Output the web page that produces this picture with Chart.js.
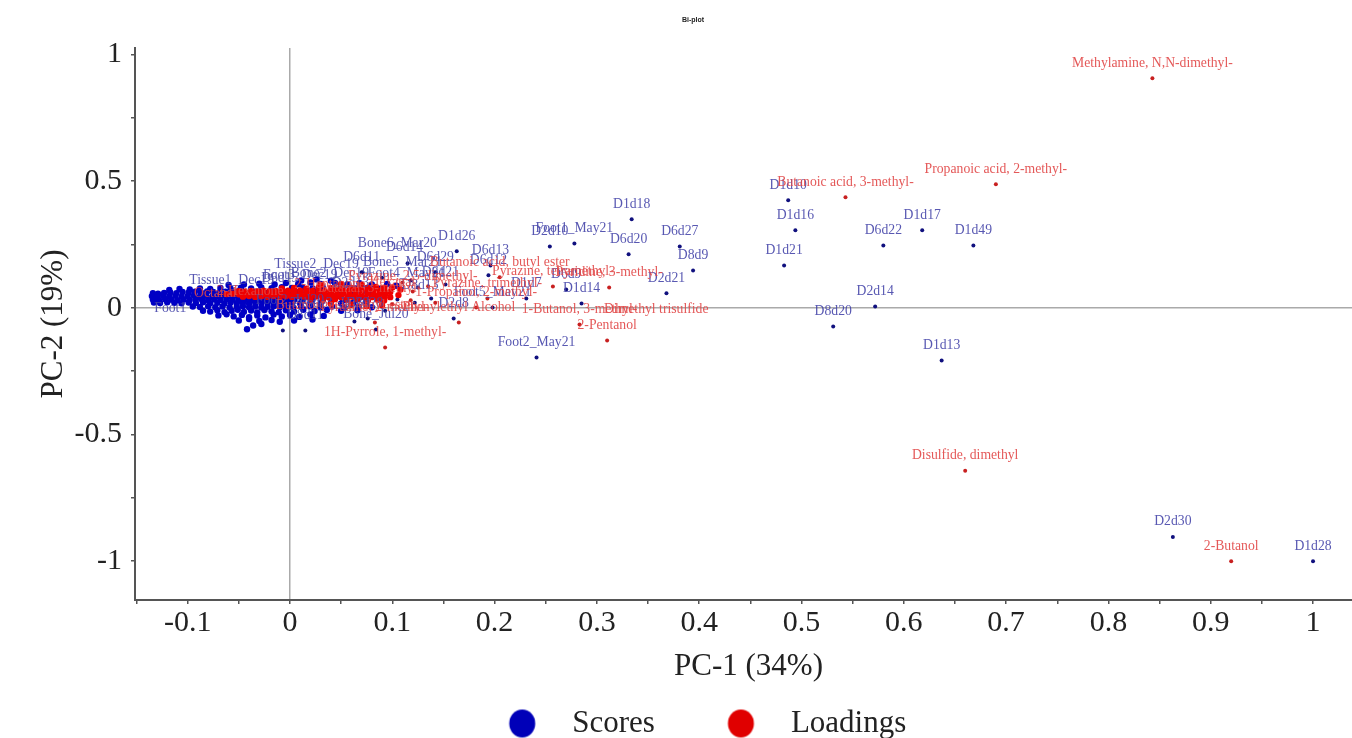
<!DOCTYPE html>
<html>
<head>
<meta charset="utf-8">
<title>Bi-plot</title>
<script src="https://cdn.jsdelivr.net/npm/chart.js@4"></script>
<style>
    body { margin: 0; background: #fff; }
    #biplot { display: block; filter: blur(0.6px); }
</style>
</head>
<body>
<canvas id="biplot" width="1352" height="738"></canvas>
<script>
const xTickLabels = ["-0.1", "0", "0.1", "0.2", "0.3", "0.4", "0.5", "0.6", "0.7", "0.8", "0.9", "1"];
const yTickLabels = ["-1", "-0.5", "0", "0.5", "1"];
const seriesNames = ["Scores", "Loadings"];

// points with their name printed just above them
const scoreNames = ["D1d28", "D2d30", "D1d13", "D8d20", "D2d14", "D1d21", "D6d22", "D1d17", "D1d49", "D1d16", "D1d10", "D1d18", "D6d27", "D8d9", "D6d20", "Foot1_May21", "D2d10", "D2d21", "D1d14", "Foot2_May21", "D6d13", "D6d12", "D1d26", "D6d9", "D1d7", "D2d8", "Foot5_May21", "D6d29", "D6d11", "Bone_Jul20", "D8d11"];
const scoreX = [1, 0.863, 0.637, 0.531, 0.572, 0.483, 0.58, 0.618, 0.668, 0.494, 0.487, 0.334, 0.381, 0.394, 0.331, 0.278, 0.254, 0.368, 0.285, 0.241, 0.196, 0.194, 0.163, 0.27, 0.231, 0.16, 0.198, 0.142, 0.07, 0.084, 0.015];
const scoreY = [-1, -0.904, -0.208, -0.074, 0.005, 0.167, 0.246, 0.306, 0.246, 0.306, 0.424, 0.349, 0.242, 0.147, 0.211, 0.254, 0.242, 0.057, 0.017, -0.196, 0.167, 0.128, 0.223, 0.072, 0.037, -0.042, 0.001, 0.14, 0.14, -0.086, -0.09];

const loadingNames = ["Methylamine, N,N-dimethyl-", "Propanoic acid, 2-methyl-", "Butanoic acid, 3-methyl-", "Disulfide, dimethyl", "2-Butanol", "1H-Pyrrole, 1-methyl-", "2-Pentanol", "1-Butanol, 3-methyl-", "Pyrazine, tetramethyl-", "Pyridine, 3-methyl-", "Butanoic acid, butyl ester", "Pyrazine, trimethyl-", "1-Propanol, 2-methyl-", "Phenylethyl Alcohol", "Pyrazine, 2,5-dimethyl-"];
const loadingX = [0.843, 0.69, 0.543, 0.66, 0.92, 0.093, 0.31, 0.283, 0.257, 0.312, 0.205, 0.193, 0.182, 0.165, 0.12];
const loadingY = [0.906, 0.487, 0.436, -0.643, -1, -0.157, -0.129, -0.066, 0.084, 0.08, 0.12, 0.037, 0.001, -0.058, 0.064];

// names in the crowded part, read at the middle of the text itself
const crowdedScoreNames = ["Foot1", "Bone6_Mar20", "D6d14", "Bone5_Mar21", "Foot4_May21", "Tissue2_Dec19", "Tissue1_Dec19", "D6d21", "Foot3_Dec19", "Bone2_Dec19", "D6d15", "D2d13", "Tissue3_Jul20", "D6d28", "Foot2_Jul20", "D8d13"];
const crowdedScoreX = [-0.117, 0.105, 0.112, 0.11, 0.114, 0.026, -0.057, 0.147, 0.01, 0.039, -0.01, 0.059, 0.039, 0.073, 0, 0.127];
const crowdedScoreY = [-0.003, 0.254, 0.238, 0.179, 0.136, 0.171, 0.108, 0.139, 0.128, 0.136, 0.116, 0.096, 0.017, 0.017, 0.029, 0.088];
const crowdedLoadingNames = ["Dimethyl trisulfide", "2-Heptanone", "Butanal, 3-methyl-", "Butanoic acid, ethyl ester", "Pyrazine, 2-methyl-", "Octanal", "2-Hexanone", "Hexanal"];
const crowdedLoadingX = [0.358, 0.039, 0.078, 0.054, 0.083, -0.073, -0.039, 0.1];
const crowdedLoadingY = [-0.007, 0.092, 0.076, 0.009, 0.001, 0.056, 0.064, 0.1];

// unnamed dots further out, then the dense band near the origin
const scoreExtras = [[0.115, 0.176], [0.125, 0.08], [0.138, 0.037], [0.105, 0.033], [0.076, -0.042], [0.063, -0.054], [-0.007, -0.09], [0.093, -0.012], [0.122, 0.02], [0.071, 0.139], [0.152, 0.092], [0.118, 0.108], [0.09, 0.118]];
const scoreCloud = [
    [-0.134, 0.058], [-0.129, 0.056], [-0.123, 0.059], [-0.117, 0.06], [-0.111, 0.058], [-0.105, 0.062], [-0.099, 0.06], [-0.093, 0.063], [-0.087, 0.06], [-0.081, 0.064], [-0.075, 0.062], [-0.069, 0.06], [-0.063, 0.063], [-0.057, 0.061], [-0.051, 0.064], [-0.045, 0.062], [-0.039, 0.06], [-0.033, 0.063], [-0.027, 0.061], [-0.021, 0.06], [-0.015, 0.063], [-0.009, 0.061], [-0.003, 0.062], [0.003, 0.06], [0.009, 0.063], [0.016, 0.061], [0.024, 0.062], [0.032, 0.06], [0.04, 0.063], [0.05, 0.061], [0.06, 0.062], [0.07, 0.06], [0.08, 0.062],
    [-0.135, 0.046], [-0.13, 0.044], [-0.124, 0.047], [-0.118, 0.045], [-0.112, 0.047], [-0.106, 0.044], [-0.1, 0.046], [-0.094, 0.048], [-0.088, 0.045], [-0.082, 0.047], [-0.076, 0.044], [-0.07, 0.046], [-0.064, 0.048], [-0.058, 0.045], [-0.052, 0.047], [-0.046, 0.044], [-0.04, 0.046], [-0.034, 0.048], [-0.028, 0.045], [-0.022, 0.047], [-0.016, 0.044], [-0.01, 0.046], [-0.004, 0.048], [0.002, 0.045], [0.008, 0.047], [0.016, 0.044], [0.026, 0.046], [0.036, 0.048], [0.046, 0.045], [0.058, 0.047], [0.07, 0.044], [0.082, 0.046],
    [-0.134, 0.033], [-0.128, 0.031], [-0.122, 0.034], [-0.116, 0.032], [-0.11, 0.03], [-0.104, 0.033], [-0.098, 0.031], [-0.092, 0.034], [-0.086, 0.032], [-0.08, 0.03], [-0.074, 0.033], [-0.068, 0.031], [-0.062, 0.034], [-0.056, 0.032], [-0.05, 0.03], [-0.044, 0.033], [-0.038, 0.031], [-0.032, 0.034], [-0.026, 0.032], [-0.02, 0.03], [-0.014, 0.033], [-0.008, 0.031], [-0.002, 0.034], [0.004, 0.032], [0.012, 0.03], [0.022, 0.033], [0.032, 0.031], [0.042, 0.034], [0.052, 0.03], [0.064, 0.032], [0.076, 0.031], [0.088, 0.034],
    [-0.133, 0.021], [-0.127, 0.019], [-0.12, 0.022], [-0.113, 0.02], [-0.106, 0.018], [-0.099, 0.021], [-0.092, 0.019], [-0.085, 0.022], [-0.078, 0.018], [-0.071, 0.02], [-0.064, 0.017], [-0.058, 0.021], [-0.052, 0.018], [-0.046, 0.02], [-0.04, 0.017], [-0.034, 0.021], [-0.028, 0.018], [-0.022, 0.02], [-0.016, 0.017], [-0.01, 0.021], [-0.004, 0.018], [0.002, 0.02], [0.01, 0.017], [0.02, 0.021], [0.03, 0.018], [0.04, 0.02], [0.05, 0.017], [0.062, 0.02], [0.074, 0.018],
    [-0.095, 0.005], [-0.088, 0.003], [-0.08, 0.006], [-0.073, 0.002], [-0.066, 0.005], [-0.059, 0.001], [-0.052, 0.004], [-0.046, 0.006], [-0.04, 0.002], [-0.034, 0.005], [-0.028, 0.001], [-0.022, 0.004], [-0.016, 0.006], [-0.01, 0.002], [-0.004, 0.005], [0.003, 0.001], [0.011, 0.004], [0.02, 0.006], [0.03, 0.002], [0.041, 0.005], [0.053, 0.001], [0.067, 0.004], [0.08, 0.002],
    [-0.085, -0.012], [-0.078, -0.015], [-0.071, -0.01], [-0.064, -0.017], [-0.057, -0.012], [-0.051, -0.008], [-0.045, -0.016], [-0.038, -0.011], [-0.032, -0.018], [-0.025, -0.009], [-0.018, -0.014], [-0.011, -0.018], [-0.004, -0.01], [0.004, -0.015], [0.013, -0.008], [0.024, -0.013], [0.036, -0.009], [0.05, -0.012], [0.066, -0.01],
    [-0.07, -0.03], [-0.062, -0.026], [-0.055, -0.034], [-0.047, -0.028], [-0.04, -0.037], [-0.032, -0.03], [-0.024, -0.038], [-0.016, -0.027], [-0.008, -0.034], [0, -0.028], [0.009, -0.036], [0.02, -0.026], [0.033, -0.032],
    [-0.05, -0.05], [-0.04, -0.044], [-0.03, -0.052], [-0.018, -0.048], [-0.036, -0.07], [-0.042, -0.085], [-0.028, -0.064], [-0.01, -0.055], [0.004, -0.05], [0.022, -0.046],
    [-0.118, 0.07], [-0.108, 0.074], [-0.098, 0.072], [-0.088, 0.076], [-0.078, 0.074], [-0.068, 0.078], [-0.058, 0.075], [-0.048, 0.079], [-0.038, 0.076], [-0.028, 0.08], [-0.018, 0.077], [-0.008, 0.081], [0.002, 0.078], [0.012, 0.08], [0.022, 0.076], [0.032, 0.081], [0.042, 0.078], [0.052, 0.08], [0.064, 0.076], [0.076, 0.078], [0.088, 0.075],
    [-0.06, 0.09], [-0.045, 0.092], [-0.03, 0.095], [-0.015, 0.092], [-0.004, 0.098], [0.008, 0.094], [0.02, 0.1], [0.03, 0.094], [0.044, 0.098], [0.056, 0.092], [0.068, 0.097], [0.08, 0.092], [0.095, 0.094], [0.104, 0.087], [0.011, 0.108], [0.026, 0.112], [0.04, 0.107]
];

const loadingExtras = [[0.083, -0.058], [0.142, 0.02], [0.11, 0.1], [0.135, 0.085], [0.1, 0.014], [0.118, 0.03]];
const loadingCloud = [
    [-0.062, 0.054], [-0.056, 0.056], [-0.05, 0.053], [-0.044, 0.057], [-0.038, 0.054], [-0.032, 0.056], [-0.026, 0.053], [-0.02, 0.057], [-0.014, 0.054], [-0.008, 0.056], [-0.002, 0.053], [0.004, 0.057], [0.01, 0.054], [0.016, 0.056], [0.022, 0.053], [0.028, 0.057], [0.034, 0.054], [0.04, 0.056], [0.046, 0.053], [0.052, 0.057], [0.058, 0.054], [0.064, 0.056], [0.07, 0.053], [0.076, 0.057], [0.082, 0.054], [0.088, 0.056], [0.093, 0.053],
    [-0.05, 0.065], [-0.044, 0.063], [-0.038, 0.066], [-0.032, 0.064], [-0.026, 0.067], [-0.02, 0.064], [-0.014, 0.066], [-0.008, 0.063], [-0.002, 0.067], [0.004, 0.065], [0.01, 0.067], [0.016, 0.064], [0.022, 0.066], [0.028, 0.068], [0.034, 0.065], [0.04, 0.067], [0.046, 0.069], [0.052, 0.066], [0.058, 0.068], [0.064, 0.07], [0.07, 0.067], [0.076, 0.069], [0.082, 0.071], [0.088, 0.068], [0.092, 0.07],
    [-0.046, 0.044], [-0.04, 0.046], [-0.034, 0.043], [-0.028, 0.045], [-0.022, 0.043], [-0.016, 0.046], [-0.01, 0.044], [-0.004, 0.045], [0.002, 0.043], [0.008, 0.046], [0.014, 0.044], [0.02, 0.042], [0.026, 0.045], [0.032, 0.043], [0.038, 0.041], [0.044, 0.044], [0.05, 0.042], [0.056, 0.04], [0.062, 0.043], [0.068, 0.041], [0.074, 0.039], [0.08, 0.042], [0.086, 0.04], [0.092, 0.038],
    [-0.008, 0.076], [0.004, 0.078], [0.016, 0.075], [0.028, 0.079], [0.04, 0.077], [0.05, 0.08], [0.06, 0.078], [0.068, 0.081], [0.076, 0.079], [0.084, 0.082], [0.092, 0.079],
    [0.02, 0.034], [0.032, 0.032], [0.044, 0.034], [0.056, 0.031], [0.066, 0.033], [0.076, 0.03], [0.086, 0.032], [0.092, 0.029],
    [0.03, 0.09], [0.05, 0.094], [0.07, 0.09], [0.1, 0.08], [0.108, 0.072], [0.098, 0.062], [0.106, 0.05], [0.098, 0.042], [0.06, 0.012], [0.075, 0.006], [0.09, 0.01], [0.04, 0.016]
];

const toPoints = (xs, ys) => xs.map((x, i) => ({ x, y: ys[i] }));
const fromPairs = (pairs) => pairs.map(([x, y]) => ({ x, y }));

const scoreLabelled = toPoints(scoreX, scoreY).concat(fromPairs(scoreExtras));
const loadingLabelled = toPoints(loadingX, loadingY).concat(fromPairs(loadingExtras));

// wide image keeps the oval in the middle and the text well off to its right
const legendMark = (color) => {
    const mark = document.createElement("canvas");
    mark.width = 69;
    mark.height = 30;
    const ctx = mark.getContext("2d");
    ctx.fillStyle = color;
    ctx.beginPath();
    ctx.ellipse(34.5, 15, 13, 14, 0, 0, Math.PI * 2);
    ctx.fill();
    return mark;
};

const labelFont = "13.7px 'Liberation Serif'";
const serif = "'Liberation Serif'";

const pointLabels = {
    id: "pointLabels",
    afterDatasetsDraw(chart) {
        const { ctx, scales: { x, y } } = chart;
        const put = (names, xs, ys, lift, color) => {
            ctx.fillStyle = color;
            names.forEach((name, i) => {
                ctx.fillText(name, x.getPixelForValue(xs[i]), y.getPixelForValue(ys[i]) - lift);
            });
        };
        ctx.save();
        ctx.font = labelFont;
        ctx.textAlign = "center";
        ctx.textBaseline = "middle";
        put(scoreNames, scoreX, scoreY, 15, "rgba(70, 70, 170, 0.9)");
        put(crowdedScoreNames, crowdedScoreX, crowdedScoreY, 0, "rgba(70, 70, 170, 0.9)");
        put(loadingNames, loadingX, loadingY, 15, "rgba(225, 70, 70, 0.9)");
        put(crowdedLoadingNames, crowdedLoadingX, crowdedLoadingY, 0, "rgba(225, 70, 70, 0.9)");
        ctx.restore();
    }
};

const placeBoxes = {
    id: "placeBoxes",
    afterLayout(chart) {
        const { legend, titleBlock } = chart;
        legend.left += 21;
        legend.right += 21;
        legend.top = 656.5;
        titleBlock.left += 17;
        titleBlock.right += 17;
    },
    // pixels are already fixed here: run the axis line to the edge and centre its title as in the picture
    beforeDraw(chart) {
        chart.scales.x.right = 1362;
        chart.chartArea.right = 1352;
    }
};

const tickLabel = (labels) => (value) => {
    const text = String(Math.round(value * 100) / 100);
    return labels.includes(text) ? text : "";
};

new Chart(document.getElementById("biplot"), {
    type: "scatter",
    data: {
        datasets: [{
            label: seriesNames[0],
            data: scoreLabelled.concat(fromPairs(scoreCloud)),
            order: 2,
            pointRadius: (c) => (c.dataIndex < scoreLabelled.length ? 2 : 3.2),
            pointBorderWidth: 0,
            pointBackgroundColor: (c) => (c.dataIndex < scoreLabelled.length ? "#10107e" : "#0000c4")
        }, {
            label: seriesNames[1],
            data: loadingLabelled.concat(fromPairs(loadingCloud)),
            order: 1,
            pointRadius: (c) => (c.dataIndex < loadingLabelled.length ? 2 : 3.2),
            pointBorderWidth: 0,
            pointBackgroundColor: (c) => (c.dataIndex < loadingLabelled.length ? "#c82020" : "#f00000")
        }]
    },
    plugins: [pointLabels, placeBoxes],
    options: {
        responsive: false,
        animation: false,
        events: [],
        plugins: {
            tooltip: { enabled: false },
            title: {
                display: true,
                text: "Bi-plot",
                color: "#222",
                font: { family: "'Liberation Sans'", size: 7, weight: "bold" },
                padding: { top: 16, bottom: 23.6 }
            },
            legend: {
                position: "bottom",
                maxHeight: 28,
                labels: {
                    usePointStyle: true,
                    pointStyleWidth: 69,
                    boxHeight: 28,
                    padding: 51.5,
                    color: "#222",
                    font: { family: serif, size: 31 },
                    generateLabels: () => [
                        { text: seriesNames[0], pointStyle: legendMark("#0000b8"), fontColor: "#222", lineWidth: 0, strokeStyle: "transparent" },
                        { text: seriesNames[1], pointStyle: legendMark("#e00000"), fontColor: "#222", lineWidth: 0, strokeStyle: "transparent" }
                    ]
                }
            }
        },
        scales: {
            x: {
                type: "linear",
                min: -0.1515,
                max: 1.0342,
                afterFit: (scale) => { scale.height = 110; },
                border: { color: "#555", width: 2 },
                grid: {
                    color: (c) => (c.tick && c.tick.value === 0 ? "#aaa" : "transparent"),
                    lineWidth: 1.5,
                    tickColor: "#555",
                    tickLength: 4
                },
                ticks: {
                    stepSize: 0.05,
                    includeBounds: false,
                    autoSkip: false,
                    maxRotation: 0,
                    padding: 1,
                    color: "#222",
                    font: { family: serif, size: 30 },
                    callback: tickLabel(xTickLabels)
                },
                title: {
                    display: true,
                    text: "PC-1 (34%)",
                    color: "#222",
                    font: { family: serif, size: 31 },
                    padding: { bottom: 24.4 }
                }
            },
            y: {
                type: "linear",
                min: -1.153,
                max: 1.025,
                afterFit: (scale) => { scale.width = 135; },
                border: { color: "#555", width: 2 },
                grid: {
                    color: (c) => (c.tick && c.tick.value === 0 ? "#aaa" : "transparent"),
                    lineWidth: 1.5,
                    tickColor: "#555",
                    tickLength: 4
                },
                ticks: {
                    stepSize: 0.25,
                    includeBounds: false,
                    autoSkip: false,
                    padding: 9,
                    color: "#222",
                    font: { family: serif, size: 30 },
                    callback: tickLabel(yTickLabels)
                },
                title: {
                    display: true,
                    text: "PC-2 (19%)",
                    color: "#222",
                    font: { family: serif, size: 31 },
                    padding: { top: 35 }
                }
            }
        }
    }
});
</script>
</body>
</html>
